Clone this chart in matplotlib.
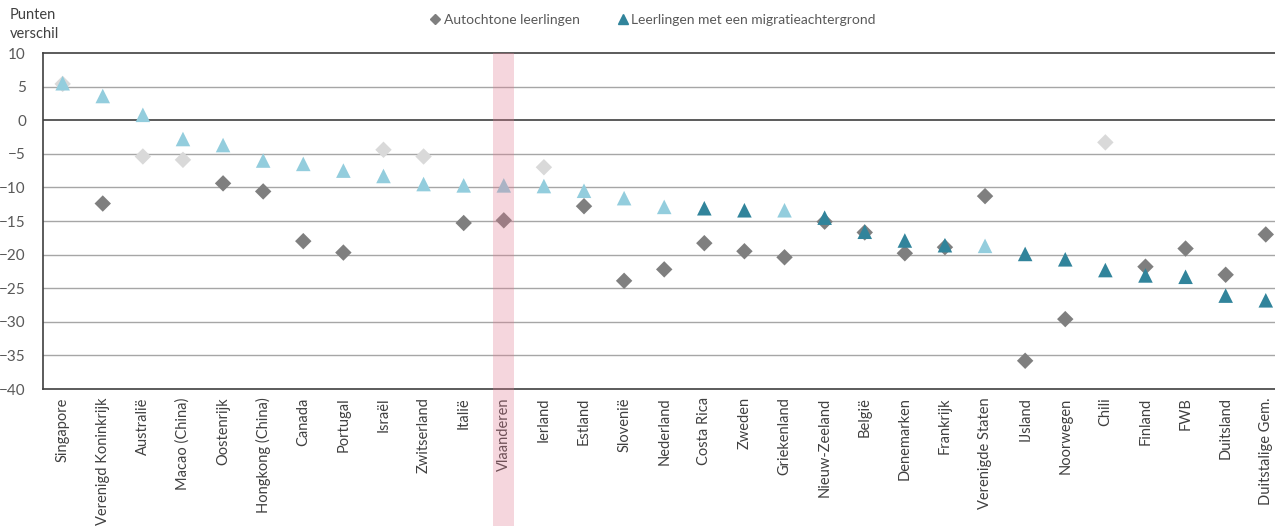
import numpy as np
import matplotlib
matplotlib.use('Agg')
import matplotlib.pyplot as plt
from matplotlib.lines import Line2D

plt.rcParams['font.family'] = ['Lato', 'DejaVu Sans']

# landen / regio's
landen = ['Singapore', 'Verenigd Koninkrijk', 'Australië', 'Macao (China)', 'Oostenrijk',
          'Hongkong (China)', 'Canada', 'Portugal', 'Israël', 'Zwitserland', 'Italië',
          'Vlaanderen', 'Ierland', 'Estland', 'Slovenië', 'Nederland', 'Costa Rica',
          'Zweden', 'Griekenland', 'Nieuw-Zeeland', 'België', 'Denemarken', 'Frankrijk',
          'Verenigde Staten', 'IJsland', 'Noorwegen', 'Chili', 'Finland', 'FWB',
          'Duitsland', 'Duitstalige Gem.']

# verschil autochtone leerlingen
autochtoon = [5.4, -12.4, -5.4, -5.9, -9.4, -10.6, -18.0, -19.7, -4.4, -5.4, -15.3,
              -14.9, -7.0, -12.8, -23.9, -22.2, -18.3, -19.5, -20.4, -15.1, -16.7,
              -19.8, -18.9, -11.3, -35.8, -29.6, -3.3, -21.8, -19.1, -23.0, -17.0]
# significant? (donker = ja)
autochtoon_sig = [0, 1, 0, 0, 1, 1, 1, 1, 0, 0, 1,
                  1, 0, 1, 1, 1, 1, 1, 1, 1, 1,
                  1, 1, 1, 1, 1, 0, 1, 1, 1, 1]

# verschil leerlingen met migratieachtergrond
migratie = [5.5, 3.6, 0.8, -2.8, -3.7, -6.0, -6.5, -7.5, -8.3, -9.5, -9.7,
            -9.7, -9.8, -10.5, -11.6, -12.9, -13.1, -13.4, -13.4, -14.5, -16.6,
            -17.9, -18.6, -18.7, -19.9, -20.7, -22.3, -23.1, -23.3, -26.1, -26.8]
migratie_sig = [0, 0, 0, 0, 0, 0, 0, 0, 0, 0, 0,
                0, 0, 0, 0, 0, 1, 1, 0, 1, 1,
                1, 1, 0, 1, 1, 1, 1, 1, 1, 1]

x = np.arange(len(landen))
aut_col = ['#7f7f7f' if s else '#d9d9d9' for s in autochtoon_sig]
mig_col = ['#31849b' if s else '#93cddd' for s in migratie_sig]

fig = plt.figure(figsize=(12.75, 5.26), dpi=100)
ax = fig.add_axes([42.6/1275, 1-389/526, 1-42.6/1275, 336/526])

ax.scatter(x, autochtoon, marker='D', s=70, c=aut_col, linewidths=0, zorder=3)
ax.scatter(x, migratie, marker='^', s=110, c=mig_col, linewidths=0, zorder=4)

ax.set_ylim(-40, 10)
ax.set_xlim(-0.5, 30.23)
ax.set_yticks(np.arange(-40, 11, 5))
ax.tick_params(axis='y', length=0, labelsize=11, labelcolor='#595959', pad=12)
ax.set_xticks(x)
ax.set_xticklabels(landen, rotation=90, fontsize=10.5, color='#404040')
ax.tick_params(axis='x', length=0, pad=6)

for yv in np.arange(-35, 10, 5):
    if yv == 0:
        ax.axhline(yv, color='#404040', lw=1.2, zorder=1)
    else:
        ax.axhline(yv, color='#a6a6a6', lw=1.0, zorder=1)

for s in ['top', 'bottom', 'left']:
    ax.spines[s].set_color('#404040')
    ax.spines[s].set_linewidth(1.2)
ax.spines['right'].set_visible(False)

# Vlaanderen markeren
ax.axvspan(10.74, 11.26, ymin=-137/336, ymax=1, color='#e07a90', alpha=0.3,
           lw=0, clip_on=False, zorder=6)

fig.text(10/1275, 1-15/526, 'Punten', fontsize=10.5, color='#404040', va='center')
fig.text(10/1275, 1-34/526, 'verschil', fontsize=10.5, color='#404040', va='center')

handles = [Line2D([], [], marker='D', ls='none', color='#7f7f7f', markersize=5),
           Line2D([], [], marker='^', ls='none', color='#31849b', markersize=7)]
fig.legend(handles, ['Autochtone leerlingen', 'Leerlingen met een migratieachtergrond'],
           loc='center', bbox_to_anchor=(652/1275, 1-20/526), ncol=2, frameon=False,
           fontsize=10, labelcolor='#595959', handletextpad=0.1, columnspacing=2.6,
           handlelength=1.0)

fig.savefig('out.png', dpi=100)
